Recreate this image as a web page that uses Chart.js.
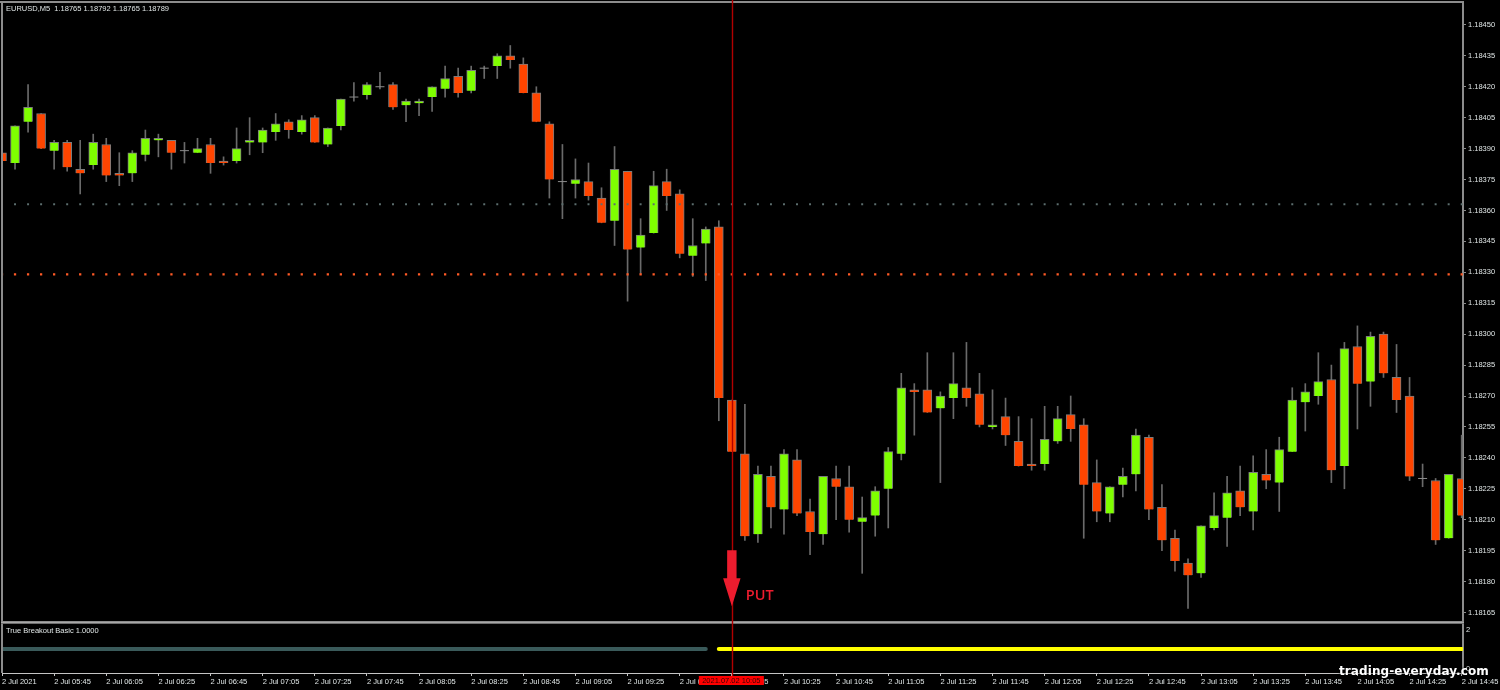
<!DOCTYPE html>
<html>
<head>
<meta charset="utf-8">
<title>EURUSD M5</title>
<script src="https://cdn.jsdelivr.net/npm/chart.js@4/dist/chart.umd.min.js"></script>
<style>
    html, body { margin: 0; padding: 0; background: #000; overflow: hidden; }
    canvas { display: block; }
</style>
</head>
<body>
<canvas id="priceChart" width="1500" height="690"></canvas>
<script>
// 5 minute bars, first one is 2 Jul 05:25
const opens = [
    1.18388,1.18383,1.18403,1.18407,1.18389,1.18393,1.18380,1.18382,1.18392,1.18378,
    1.18378,1.18387,1.18394,1.18394,1.18389,1.18388,1.18392,1.18384,1.18384,1.18393,
    1.18393,1.18398,1.18403,1.18398,1.18405,1.18392,1.18401,1.18415,1.18416,1.18420,
    1.18421,1.18411,1.18412,1.18415,1.18419,1.18425,1.18418,1.18429,1.18430,1.18435,
    1.18431,1.18417,1.18402,1.18374,1.18373,1.18374,1.18366,1.18355,1.18379,1.18342,
    1.18349,1.18374,1.18368,1.18338,1.18344,1.18352,1.18268,1.18242,1.18203,1.18231,
    1.18215,1.18239,1.18214,1.18203,1.18230,1.18226,1.18209,1.18212,1.18225,1.18242,
    1.18273,1.18273,1.18264,1.18269,1.18274,1.18271,1.18255,1.18260,1.18248,1.18237,
    1.18237,1.18248,1.18261,1.18256,1.18228,1.18213,1.18227,1.18232,1.18250,1.18216,
    1.18201,1.18189,1.18184,1.18206,1.18211,1.18224,1.18214,1.18232,1.18228,1.18243,
    1.18267,1.18270,1.18278,1.18236,1.18294,1.18277,1.18300,1.18279,1.18270,1.18230,
    1.18229,1.18201,1.18230
];
const highs = [
    1.18394,1.18401,1.18421,1.18407,1.18394,1.18394,1.18394,1.18397,1.18395,1.18388,
    1.18389,1.18399,1.18397,1.18394,1.18393,1.18395,1.18395,1.18386,1.18400,1.18405,
    1.18400,1.18407,1.18404,1.18406,1.18406,1.18400,1.18414,1.18422,1.18422,1.18427,
    1.18422,1.18414,1.18414,1.18420,1.18430,1.18429,1.18430,1.18430,1.18436,1.18440,
    1.18434,1.18420,1.18403,1.18392,1.18385,1.18383,1.18371,1.18391,1.18379,1.18356,
    1.18379,1.18380,1.18370,1.18356,1.18352,1.18355,1.18268,1.18266,1.18236,1.18236,
    1.18244,1.18244,1.18220,1.18231,1.18236,1.18236,1.18221,1.18226,1.18245,1.18281,
    1.18276,1.18291,1.18272,1.18291,1.18296,1.18281,1.18273,1.18269,1.18260,1.18259,
    1.18265,1.18265,1.18270,1.18259,1.18239,1.18226,1.18235,1.18254,1.18251,1.18227,
    1.18205,1.18191,1.18207,1.18223,1.18231,1.18236,1.18241,1.18244,1.18250,1.18274,
    1.18276,1.18291,1.18285,1.18296,1.18304,1.18301,1.18301,1.18295,1.18279,1.18237,
    1.18230,1.18232,1.18251
];
const lows = [
    1.18384,1.18380,1.18398,1.18390,1.18380,1.18379,1.18368,1.18380,1.18374,1.18372,
    1.18374,1.18384,1.18386,1.18380,1.18383,1.18388,1.18378,1.18382,1.18383,1.18387,
    1.18388,1.18394,1.18395,1.18397,1.18393,1.18391,1.18399,1.18413,1.18414,1.18419,
    1.18409,1.18403,1.18406,1.18408,1.18415,1.18415,1.18417,1.18424,1.18424,1.18429,
    1.18417,1.18403,1.18366,1.18356,1.18366,1.18365,1.18354,1.18343,1.18316,1.18329,
    1.18349,1.18360,1.18337,1.18328,1.18326,1.18258,1.18243,1.18200,1.18199,1.18206,
    1.18203,1.18212,1.18193,1.18198,1.18210,1.18204,1.18184,1.18202,1.18206,1.18239,
    1.18251,1.18262,1.18228,1.18259,1.18265,1.18255,1.18254,1.18246,1.18236,1.18234,
    1.18234,1.18247,1.18248,1.18201,1.18209,1.18209,1.18221,1.18224,1.18210,1.18195,
    1.18185,1.18167,1.18182,1.18205,1.18197,1.18212,1.18205,1.18225,1.18214,1.18243,
    1.18253,1.18266,1.18228,1.18225,1.18254,1.18265,1.18279,1.18262,1.18229,1.18226,
    1.18198,1.18201,1.18211
];
const closes = [
    1.18384,1.18401,1.18410,1.18390,1.18393,1.18381,1.18378,1.18393,1.18377,1.18377,
    1.18388,1.18395,1.18395,1.18388,1.18389,1.18390,1.18383,1.18383,1.18390,1.18394,
    1.18399,1.18402,1.18399,1.18404,1.18393,1.18400,1.18414,1.18415,1.18421,1.18420,
    1.18410,1.18413,1.18413,1.18420,1.18424,1.18417,1.18428,1.18429,1.18435,1.18433,
    1.18417,1.18403,1.18375,1.18374,1.18375,1.18367,1.18354,1.18380,1.18341,1.18348,
    1.18372,1.18367,1.18339,1.18343,1.18351,1.18269,1.18243,1.18202,1.18232,1.18216,
    1.18242,1.18213,1.18204,1.18231,1.18226,1.18210,1.18211,1.18224,1.18243,1.18274,
    1.18272,1.18262,1.18270,1.18276,1.18269,1.18256,1.18256,1.18251,1.18236,1.18236,
    1.18249,1.18259,1.18254,1.18227,1.18214,1.18226,1.18231,1.18251,1.18215,1.18200,
    1.18190,1.18183,1.18207,1.18212,1.18223,1.18216,1.18233,1.18229,1.18244,1.18268,
    1.18272,1.18277,1.18234,1.18293,1.18276,1.18299,1.18281,1.18268,1.18231,1.18230,
    1.18200,1.18232,1.18212
];

const timeLabels = [
    '2 Jul 2021','2 Jul 05:45','2 Jul 06:05','2 Jul 06:25','2 Jul 06:45','2 Jul 07:05','2 Jul 07:25','2 Jul 07:45',
    '2 Jul 08:05','2 Jul 08:25','2 Jul 08:45','2 Jul 09:05','2 Jul 09:25','2 Jul 09:45','2 Jul 10:05','2 Jul 10:25',
    '2 Jul 10:45','2 Jul 11:05','2 Jul 11:25','2 Jul 11:45','2 Jul 12:05','2 Jul 12:25','2 Jul 12:45','2 Jul 13:05',
    '2 Jul 13:25','2 Jul 13:45','2 Jul 14:05','2 Jul 14:25','2 Jul 14:45'
];
const priceTicks = [
    1.18450,1.18435,1.18420,1.18405,1.18390,1.18375,1.18360,1.18345,1.18330,1.18315,
    1.18300,1.18285,1.18270,1.18255,1.18240,1.18225,1.18210,1.18195,1.18180,1.18165
];
const indicatorTicks = [0, 2];

const supportLevel = 1.18363;    // grey dotted
const breakoutLevel = 1.18329;   // orange dotted
const signalIndex = 56;          // 10:05 bar
const signalPrice = 1.18168;
const signalLabel = '2021.07.02 10:05';
const teamBars = 55;             // indicator switches colour here

const UP = '#7fff00';
const DOWN = '#ff4500';
const WICK = '#6a6a6a';
const OUTLINE = '#7c7c7c';
const TEXT = '#dfe5e5';
const FONT = '"Liberation Sans", sans-serif';

const bars = opens.map((o, i) => i);
const bodyBars = bars.filter(i => opens[i] !== closes[i]);
const dojiBars = bars.filter(i => opens[i] === closes[i]);

const overlay = {
    id: 'overlay',
    afterDraw(chart) {
        const { ctx, chartArea: a, scales } = chart;
        const sepY = scales.y.bottom;
        const sigX = scales.x.getPixelForValue(signalIndex);
        const tipY = scales.y.getPixelForValue(signalPrice);

        ctx.save();
        // window frame
        ctx.fillStyle = '#8c8c8c';
        ctx.fillRect(0, 1, a.right, 2);
        ctx.fillRect(1, 1, 2, a.bottom - 1);
        ctx.fillRect(1, sepY - 2, a.right, 1);
        ctx.fillStyle = '#a8a8a8';
        ctx.fillRect(1, sepY - 1, a.right, 1);
        ctx.fillStyle = '#6e6e6e';
        ctx.fillRect(1, sepY, a.right, 1);

        // signal line
        ctx.strokeStyle = '#b00000';
        ctx.lineWidth = 1.4;
        ctx.beginPath();
        ctx.moveTo(Math.round(sigX) + 0.5, 0);
        ctx.lineTo(Math.round(sigX) + 0.5, a.bottom + 3);
        ctx.stroke();

        // arrow
        ctx.fillStyle = '#ed1c2e';
        ctx.beginPath();
        ctx.moveTo(sigX - 4.7, tipY - 56);
        ctx.lineTo(sigX + 4.7, tipY - 56);
        ctx.lineTo(sigX + 4.7, tipY - 28);
        ctx.lineTo(sigX + 8.7, tipY - 28);
        ctx.lineTo(sigX, tipY);
        ctx.lineTo(sigX - 8.7, tipY - 28);
        ctx.lineTo(sigX - 4.7, tipY - 28);
        ctx.closePath();
        ctx.fill();
        ctx.font = '600 14.5px "Open Sans", sans-serif';
        ctx.textBaseline = 'middle';
        ctx.textAlign = 'left';
        ctx.fillText('PUT', sigX + 14, tipY - 10);

        // captions
        ctx.font = '7.5px ' + FONT;
        ctx.fillStyle = TEXT;
        ctx.fillText('EURUSD,M5  1.18765 1.18792 1.18765 1.18789', 6, 8.5);
        ctx.fillText('True Breakout Basic 1.0000', 6, 631);

        // time label on the axis
        ctx.fillStyle = '#ff0000';
        ctx.fillRect(sigX - 33, a.bottom + 3, 65, 9);
        ctx.fillStyle = '#3a0000';
        ctx.textAlign = 'center';
        ctx.fillText(signalLabel, sigX - 0.5, a.bottom + 8);

        // watermark
        ctx.font = 'bold 12px "DejaVu Sans", sans-serif';
        ctx.letterSpacing = '0.1px';
        ctx.textAlign = 'left';
        ctx.shadowColor = '#000';
        ctx.shadowBlur = 3;
        ctx.fillStyle = '#fff';
        ctx.fillText('trading-everyday.com', 1339, 672);
        ctx.restore();
    }
};

new Chart(document.getElementById('priceChart'), {
    type: 'bar',
    data: {
        datasets: [
            {
                type: 'line',
                data: bars.map(i => ({ x: i, y: breakoutLevel })),
                yAxisID: 'y',
                showLine: false,
                pointStyle: 'rect',
                pointRadius: 1.6,
                pointBorderWidth: 0,
                pointBackgroundColor: '#ff5a26',
                order: 0
            },
            {
                type: 'line',
                data: bars.map(i => ({ x: i, y: supportLevel })),
                yAxisID: 'y',
                showLine: false,
                pointStyle: 'rect',
                pointRadius: 1.4,
                pointBorderWidth: 0,
                pointBackgroundColor: '#5c6e6e',
                order: 0
            },
            {
                type: 'line',
                data: dojiBars.map(i => ({ x: i, y: closes[i] })),
                yAxisID: 'y',
                showLine: false,
                pointStyle: 'line',
                pointRadius: 4.5,
                pointBorderWidth: 1,
                pointBorderColor: '#8c8c8c',
                order: 1
            },
            {
                data: bodyBars.map(i => ({ x: i, y: [opens[i], closes[i]] })),
                yAxisID: 'y',
                grouped: false,
                barThickness: 9,
                borderWidth: 1,
                borderColor: OUTLINE,
                backgroundColor: bodyBars.map(i => closes[i] > opens[i] ? UP : DOWN),
                order: 2
            },
            {
                data: bars.map(i => ({ x: i, y: [lows[i], highs[i]] })),
                yAxisID: 'y',
                grouped: false,
                barThickness: 1,
                borderWidth: 0,
                backgroundColor: WICK,
                order: 3
            },
            {
                type: 'line',
                data: bars.slice(0, teamBars).map(i => ({ x: i, y: 1 })),
                yAxisID: 'y2',
                pointRadius: 0,
                borderWidth: 4,
                borderCapStyle: 'round',
                borderColor: '#3a5a5a',
                order: 2
            },
            {
                type: 'line',
                data: bars.slice(teamBars).map(i => ({ x: i, y: 1 })),
                yAxisID: 'y2',
                pointRadius: 0,
                borderWidth: 4,
                borderCapStyle: 'round',
                borderColor: '#ffff00',
                order: 2
            }
        ]
    },
    options: {
        responsive: false,
        animation: false,
        layout: { autoPadding: false, padding: { left: 2, top: 2, right: 0, bottom: 0 } },
        plugins: { legend: { display: false }, tooltip: { enabled: false } },
        scales: {
            x: {
                type: 'linear',
                offset: false,
                min: 0,
                max: 112.1,
                border: { color: '#c4c4c4', width: 1 },
                grid: { offset: false, drawOnChartArea: false, tickLength: 3, tickColor: '#c4c4c4' },
                ticks: {
                    align: 'start',
                    autoSkip: false,
                    maxRotation: 0,
                    padding: 1,
                    color: TEXT,
                    font: { family: FONT, size: 7.5 },
                    callback: (v) => timeLabels[v / 4]
                },
                afterBuildTicks: (s) => { s.ticks = timeLabels.map((t, i) => ({ value: i * 4 })); },
                afterFit: (s) => { s.height = 17; s.paddingLeft = 0; s.paddingRight = 0; }
            },
            y: {
                position: 'right',
                stack: 'panes',
                stackWeight: 621,
                min: 1.181599,
                max: 1.184611,
                border: { color: '#8c8c8c', width: 2 },
                grid: { drawOnChartArea: false, tickLength: 3, tickColor: '#8c8c8c' },
                ticks: {
                    padding: 2,
                    color: TEXT,
                    font: { family: FONT, size: 7.5 },
                    callback: (v) => v.toFixed(5)
                },
                afterBuildTicks: (s) => { s.ticks = priceTicks.map(v => ({ value: v })); },
                afterFit: (s) => { s.width = 37; s.paddingTop = 0; s.paddingBottom = 0; }
            },
            y2: {
                position: 'right',
                stack: 'panes',
                stackWeight: 50,
                min: -0.23,
                max: 2.33,
                border: { color: '#8c8c8c', width: 2 },
                grid: { drawOnChartArea: false, drawTicks: false },
                ticks: {
                    padding: 3,
                    color: TEXT,
                    font: { family: FONT, size: 7.5 }
                },
                afterBuildTicks: (s) => { s.ticks = indicatorTicks.map(v => ({ value: v })); },
                afterFit: (s) => { s.width = 37; s.paddingTop = 0; s.paddingBottom = 0; }
            }
        }
    },
    plugins: [overlay]
});
</script>
</body>
</html>
